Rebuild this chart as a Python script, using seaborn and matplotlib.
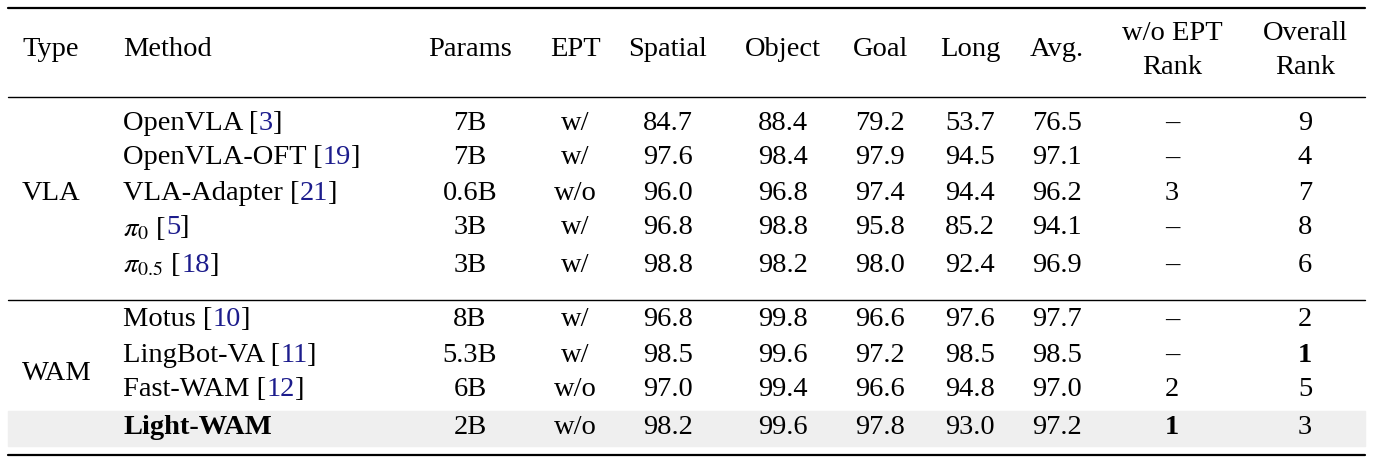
import matplotlib
matplotlib.use("Agg")
import matplotlib.pyplot as plt
import seaborn as sns

sns.set_theme(style="white")
plt.rcParams["font.family"] = ["Liberation Serif", "DejaVu Serif"]
plt.rcParams["mathtext.fontset"] = "stix"
plt.rcParams["text.color"] = "black"

types = ["VLA", "WAM"]
methods = ["OpenVLA", "OpenVLA-OFT", "VLA-Adapter", r"$\pi_0$", r"$\pi_{0.5}$",
           "Motus", "LingBot-VA", "Fast-WAM", "Light-WAM"]
cites = ["3", "19", "21", "5", "18", "10", "11", "12", ""]
params = ["7B", "7B", "0.6B", "3B", "3B", "8B", "5.3B", "6B", "2B"]
ept = ["w/", "w/", "w/o", "w/", "w/", "w/", "w/", "w/o", "w/o"]
spatial = [84.7, 97.6, 96.0, 96.8, 98.8, 96.8, 98.5, 97.0, 98.2]
obj = [88.4, 98.4, 96.8, 98.8, 98.2, 99.8, 99.6, 99.4, 99.6]
goal = [79.2, 97.9, 97.4, 95.8, 98.0, 96.6, 97.2, 96.6, 97.8]
long_ = [53.7, 94.5, 94.4, 85.2, 92.4, 97.6, 98.5, 94.8, 93.0]
avg = [76.5, 97.1, 96.2, 94.1, 96.9, 97.7, 98.5, 97.0, 97.2]
wo_rank = ["–", "–", "3", "–", "–", "–", "–", "2", "1"]
overall_rank = ["9", "4", "7", "8", "6", "2", "1", "5", "3"]

FS = 20.5
BLUE = "#1c1c8c"
fig = plt.figure(figsize=(13.73, 4.62), dpi=100)
ax = fig.add_axes([0, 0, 1, 1])
ax.set_xlim(0, 1373)
ax.set_ylim(462, 0)
ax.axis("off")

# rules
ax.plot([8, 1365], [8, 8], color="black", lw=1.6)
ax.plot([8, 1365], [97, 97], color="black", lw=1.0)
ax.plot([8, 1365], [300, 300], color="black", lw=1.0)
ax.plot([8, 1365], [455, 455], color="black", lw=1.6)
ax.fill_between([8, 1365], 411, 446, color="#efefef", zorder=0)

cols = [470, 575, 668, 783, 880, 970, 1057, 1172, 1305]
heads = ["Params", "EPT", "Spatial", "Object", "Goal", "Long", "Avg."]
ax.text(22, 50, "Type", fontsize=FS, va="center")
ax.text(123, 50, "Method", fontsize=FS, va="center")
for x, h in zip(cols, heads):
    ax.text(x, 50, h, fontsize=FS, ha="center", va="center")
ax.text(cols[7], 33, "w/o EPT", fontsize=FS, ha="center", va="center")
ax.text(cols[7], 67, "Rank", fontsize=FS, ha="center", va="center")
ax.text(cols[8], 33, "Overall", fontsize=FS, ha="center", va="center")
ax.text(cols[8], 67, "Rank", fontsize=FS, ha="center", va="center")

ax.text(22, 193, types[0], fontsize=FS, va="center")
ax.text(22, 373, types[1], fontsize=FS, va="center")

row_y = [123, 158, 193, 228, 265, 320, 355, 390, 428]
renderer = fig.canvas.get_renderer()
inv = ax.transData.inverted()


def chain(x, y, pieces):
    for s, c, w in pieces:
        t = ax.text(x, y, s, fontsize=FS, va="center", color=c, fontweight=w)
        bb = t.get_window_extent(renderer)
        x = inv.transform((bb.x1, 0))[0]


for i, y in enumerate(row_y):
    if cites[i]:
        chain(123, y, [(methods[i] + " [", "black", "normal"),
                       (cites[i], BLUE, "normal"), ("]", "black", "normal")])
    else:
        chain(123, y, [(methods[i], "black", "bold")])
    vals = [params[i], ept[i], f"{spatial[i]:.1f}", f"{obj[i]:.1f}", f"{goal[i]:.1f}",
            f"{long_[i]:.1f}", f"{avg[i]:.1f}", wo_rank[i], overall_rank[i]]
    for j, (x, v) in enumerate(zip(cols, vals)):
        bold = (j == 7 and v == "1") or (j == 8 and v == "1")
        ax.text(x, y, v, fontsize=FS, ha="center", va="center",
                fontweight="bold" if bold else "normal")

fig.savefig("out.png", dpi=100)
